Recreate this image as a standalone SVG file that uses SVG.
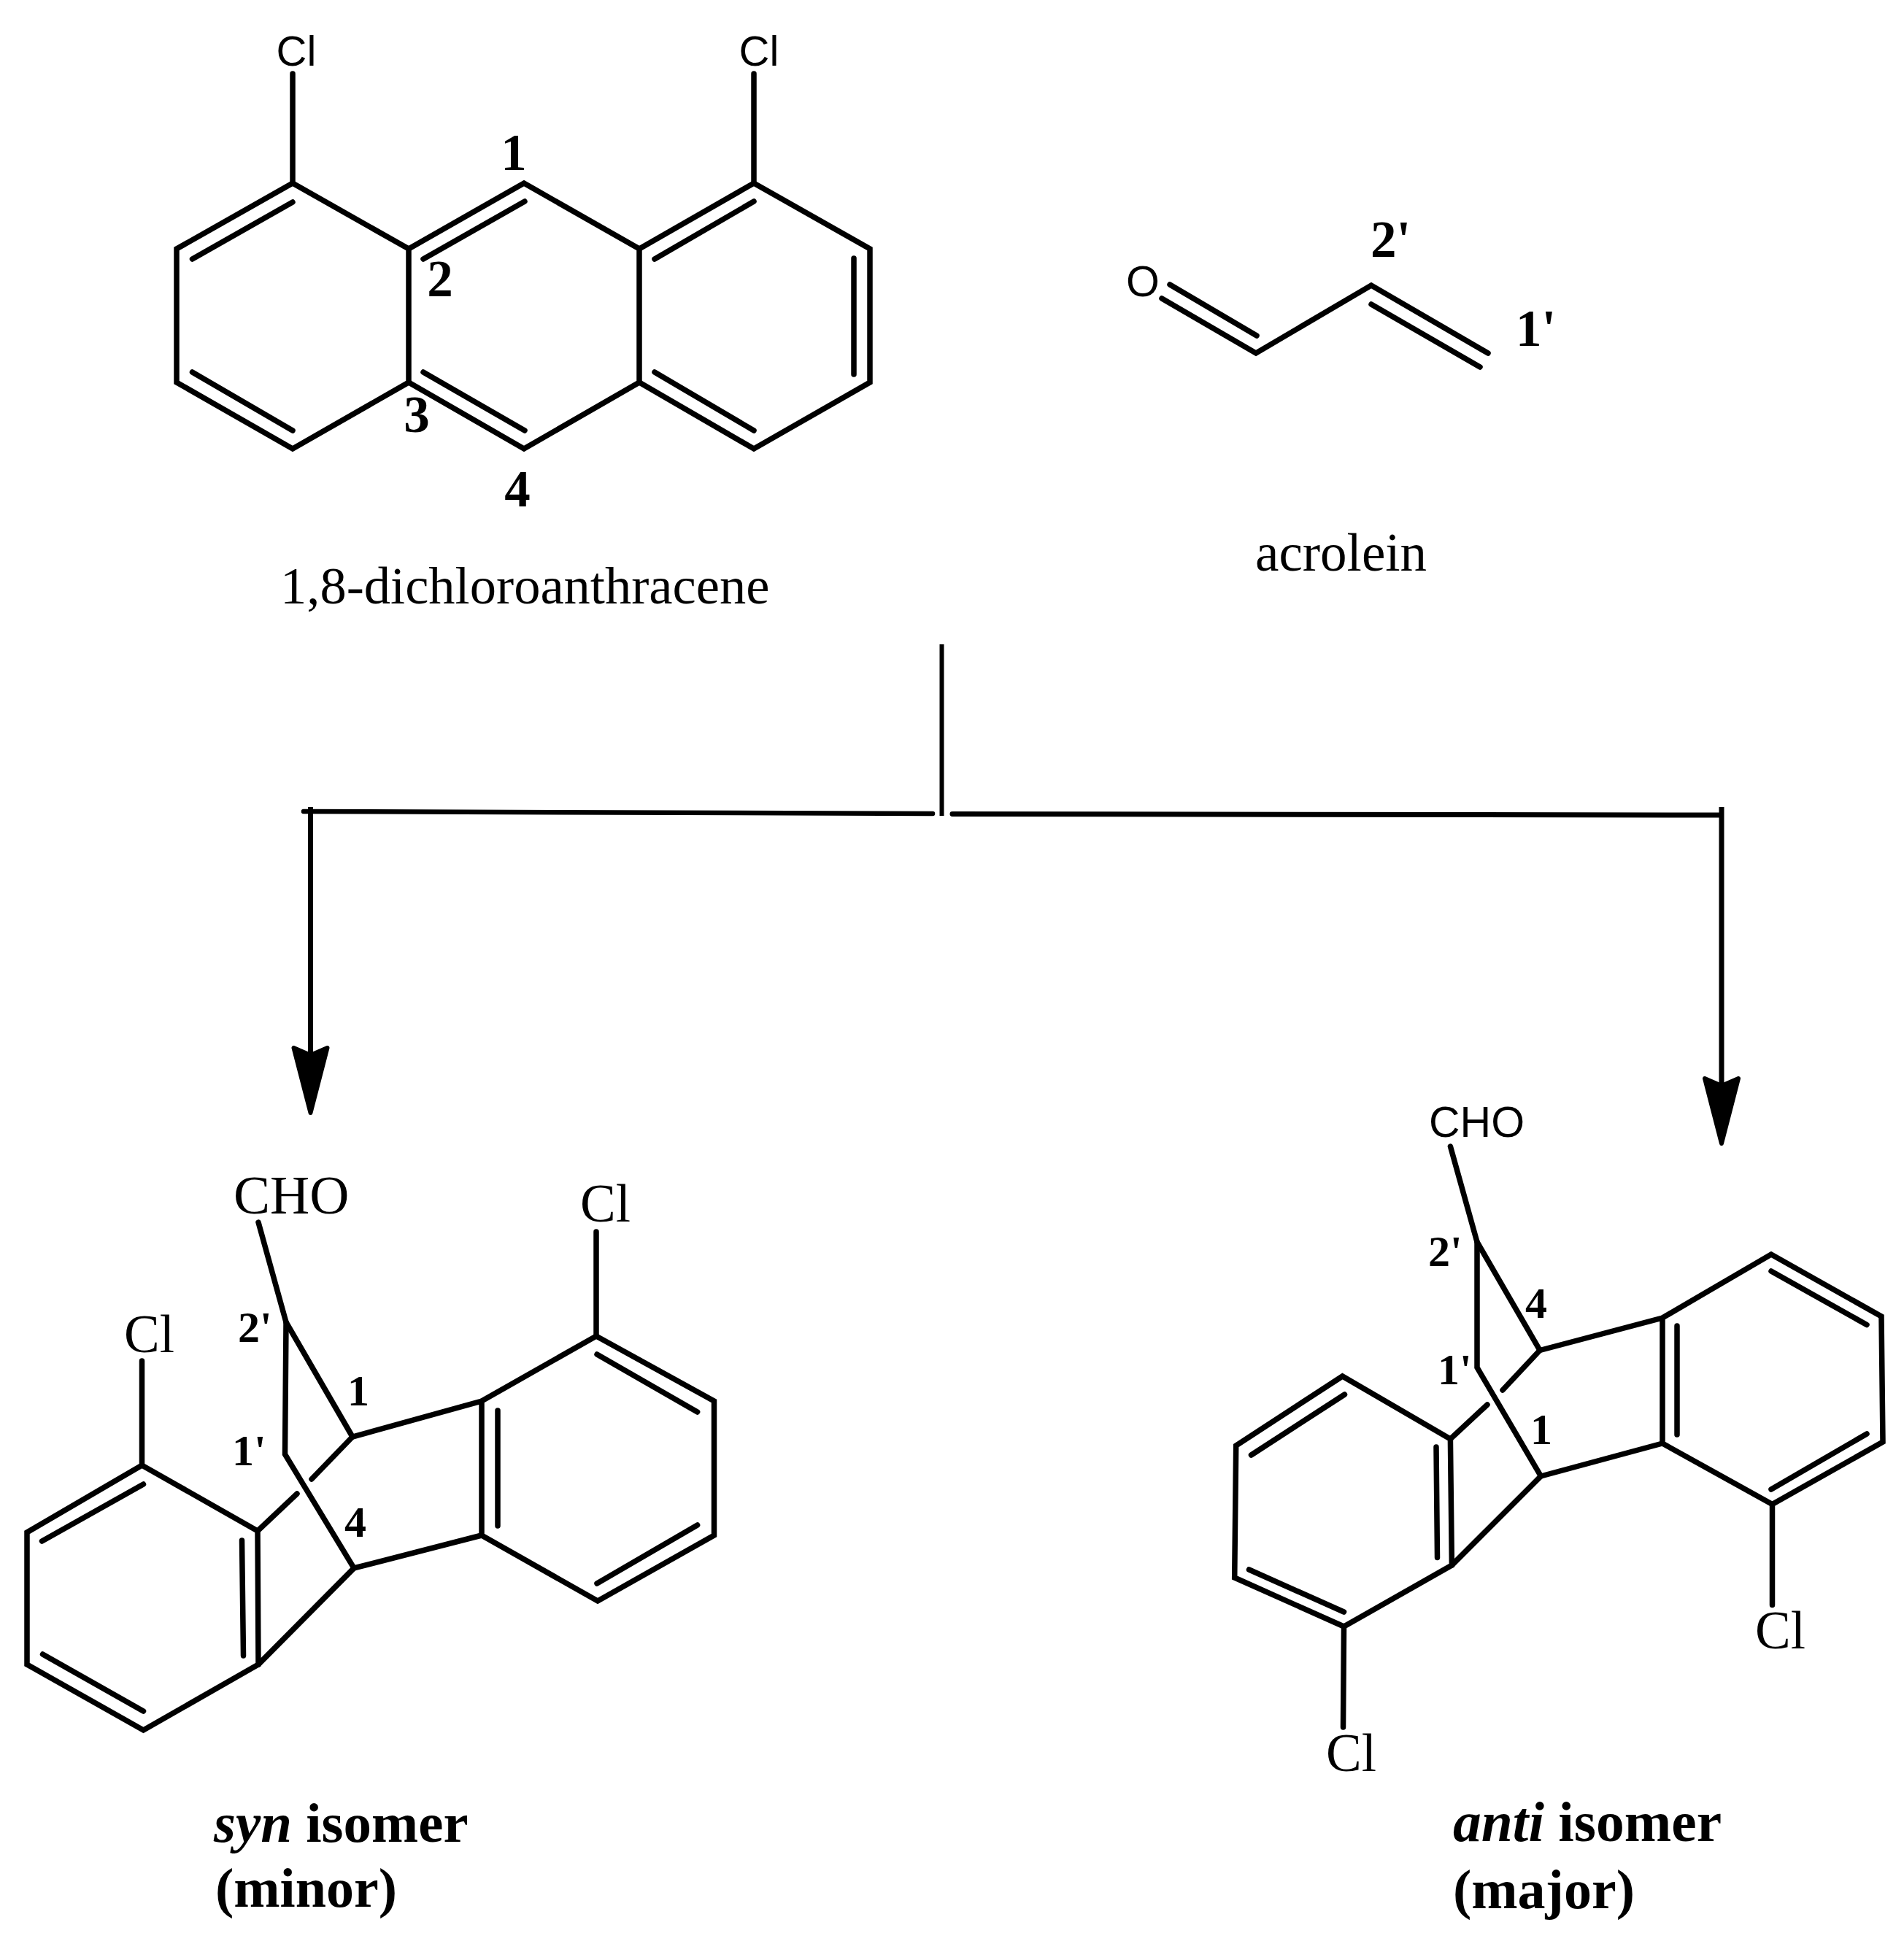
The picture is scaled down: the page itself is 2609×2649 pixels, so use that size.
<svg xmlns="http://www.w3.org/2000/svg" width="2609" height="2649" viewBox="0 0 2609 2649">
<style>
.b{fill:none;stroke:#000;stroke-width:7.5;stroke-linejoin:miter;stroke-linecap:round}
.c{fill:none;stroke:#000;stroke-width:7;stroke-linecap:butt}
.sans{font-family:"Liberation Sans",Arial,sans-serif;font-size:59px;fill:#000}
.ser{font-family:"Liberation Serif","Times New Roman",serif;font-size:73px;fill:#000}
.num{font-family:"Liberation Serif","Times New Roman",serif;font-weight:bold;font-size:71px;fill:#000}
.num2{font-family:"Liberation Serif","Times New Roman",serif;font-weight:bold;font-size:60px;fill:#000}
.cap{font-family:"Liberation Serif","Times New Roman",serif;font-weight:bold;font-size:77px;fill:#000}
.it{font-style:italic}
.m{text-anchor:middle}
</style>
<defs>
<marker id="head" markerUnits="userSpaceOnUse" markerWidth="96" markerHeight="54" viewBox="0 0 96 54" refX="13" refY="27" orient="auto">
<path d="M3,4 L13,27 L3,50 L92,27 Z" fill="#000" stroke="#000" stroke-width="6" stroke-linejoin="round"/>
</marker>
</defs>
<rect width="2609" height="2649" fill="#fff"/>

<g id="connectors">
<path class="c" style="stroke-width:6" d="M1290.500,883 V1118"/>
<path class="c" style="stroke-width:6.500;stroke-linecap:round" d="M416,1112 L1278,1115"/>
<path class="c" style="stroke-width:7;stroke-linecap:round" d="M1305,1115.500 L2358,1117"/>
<path class="c" marker-end="url(#head)" d="M425.500,1106 V1446"/>
<path class="c" marker-end="url(#head)" d="M2359,1106 V1488"/>
</g>

<g id="dichloroanthracene">
<path class="b" d="M401,251 L242,341 V524 L401,615 L560,524 V341 Z"/>
<path class="b" d="M560,341 L718,251 L876,341 V524 L718,615 L560,524"/>
<path class="b" d="M876,341 L1033,251 L1192,341 V524 L1033,615 L876,524"/>
<path class="b" d="M401,251 V101 M1033,251 V101"/>
<path class="b" d="M263.500,355 L401,277 M263.500,510 L401,590 M580,355 L719,276 M580,510 L719,590 M897,355 L1033,276 M897,510 L1033,590 M1170,354 V513"/>
<text class="sans m" x="406" y="90" style="font-size:58px">Cl</text>
<text class="sans m" x="1040" y="90" style="font-size:58px">Cl</text>
<text class="num m" x="704" y="233">1</text>
<text class="num m" x="603" y="406">2</text>
<text class="num m" x="571" y="592">3</text>
<text class="num m" x="709" y="694">4</text>
<text class="ser" x="384" y="827" style="font-size:72.500px">1,8-dichloroanthracene</text>
</g>

<g id="acrolein">
<path class="b" d="M1592,409 L1721,484 L1879,391 L2039,484 M1603,390 L1722,460 M1879,417 L2028,503"/>
<text class="sans m" x="1566" y="406">O</text>
<text class="num" x="1878" y="352">2'</text>
<text class="num" x="2077" y="474">1'</text>
<text class="ser" x="1720" y="782">acrolein</text>
</g>

<g id="syn-isomer">
<path class="b" d="M354,1675 L392,1812 L483,1969 L660,1920 L817,1831 L978.500,1920 V2104 L819,2194 L660,2104 V1920"/>
<path class="b" d="M392,1812 L390.500,1993 L485,2149 L660,2104"/>
<path class="b" d="M483,1969 L427,2027 M407,2047 L353,2098"/>
<path class="b" d="M353,2098 L194.500,2008 L37,2100 V2281 L196.500,2371 L354,2281 Z"/>
<path class="b" d="M354,2281 L485,2149"/>
<path class="b" d="M194.500,2008 V1865 M817,1831 V1688"/>
<path class="b" d="M57.500,2112 L196.500,2034 M58.500,2267 L196.500,2345 M331.500,2111 L333.500,2269 M818,1856 L955.600,1935 M955.600,2090 L818,2170 M682,1933 V2091"/>
<text class="ser" x="320" y="1663" style="font-size:75px">CHO</text>
<text class="ser" x="170" y="1853">Cl</text>
<text class="ser" x="795" y="1674">Cl</text>
<text class="num2" x="326" y="1839">2'</text>
<text class="num2 m" x="491" y="1926">1</text>
<text class="num2" x="318" y="2008">1'</text>
<text class="num2 m" x="487" y="2106">4</text>
<text class="cap" x="293" y="2524"><tspan class="it">syn</tspan> isomer</text>
<text class="cap" x="295" y="2613" style="font-size:76px">(minor)</text>
</g>

<g id="anti-isomer">
<path class="b" d="M1987.400,1571 L2024,1702 L2110,1850.500 L2278,1806 L2427,1719 L2578,1804 L2580,1976 L2428.500,2061.500 L2278,1978 V1806"/>
<path class="b" d="M2024,1702 V1874 L2111.400,2023 L2278,1978"/>
<path class="b" d="M2110,1850.500 L2059,1905 M2038,1925 L1987.400,1972"/>
<path class="b" d="M1987.400,1972 L1839.500,1886 L1693.700,1981 L1691.700,2162 L1841.500,2229 L1989.400,2145 Z"/>
<path class="b" d="M1989.400,2145 L2111.400,2023"/>
<path class="b" d="M2428.500,2061.500 V2199.500 M1841.500,2229 L1840.500,2367"/>
<path class="b" d="M1842.500,1911 L1714.500,1994 M1711.500,2151 L1841.500,2209 M1968,1983 L1969.500,2134.500 M2427,1742 L2558,1815.500 M2558,1965 L2427,2041 M2298,1817 V1966"/>
<text class="sans" x="1958" y="1558">CHO</text>
<text class="ser" x="2405" y="2259">Cl</text>
<text class="ser" x="1817" y="2427">Cl</text>
<text class="num2" x="1957" y="1735">2'</text>
<text class="num2 m" x="2105" y="1806">4</text>
<text class="num2" x="1970" y="1897">1'</text>
<text class="num2 m" x="2112" y="1979">1</text>
<text class="cap" x="1991" y="2523" style="font-size:77.500px"><tspan class="it">anti</tspan> isomer</text>
<text class="cap" x="1991" y="2615" style="font-size:76px">(major)</text>
</g>
</svg>
